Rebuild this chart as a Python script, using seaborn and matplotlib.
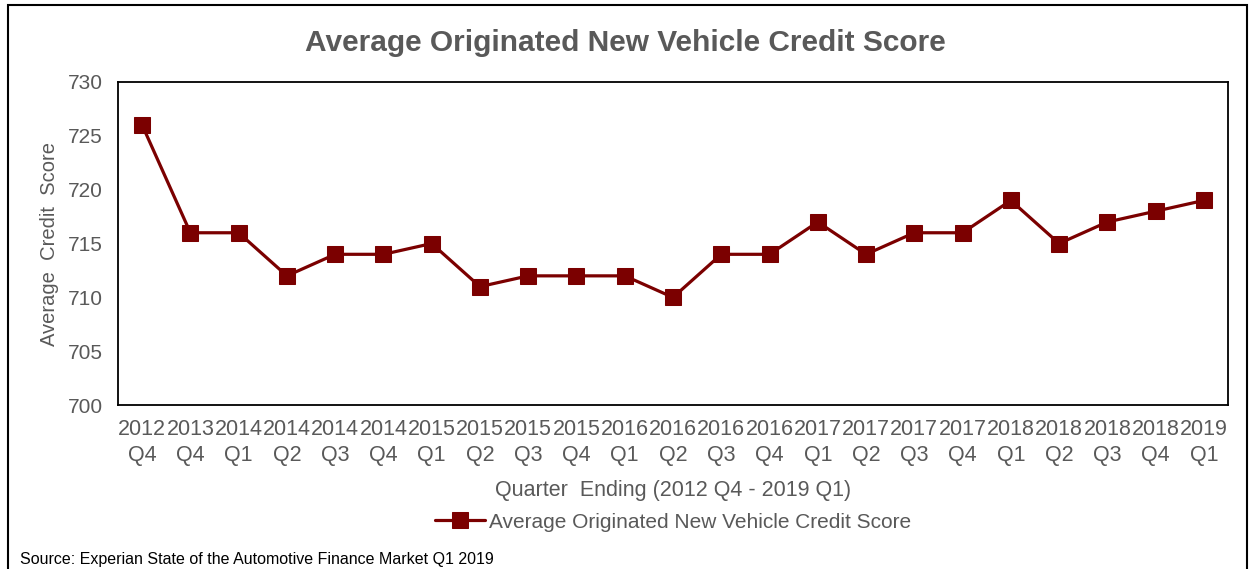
import matplotlib
matplotlib.use("Agg")
import matplotlib.pyplot as plt
import seaborn as sns
import pandas as pd
from matplotlib.patches import Rectangle

quarters = ["2012\nQ4", "2013\nQ4", "2014\nQ1", "2014\nQ2", "2014\nQ3", "2014\nQ4",
            "2015\nQ1", "2015\nQ2", "2015\nQ3", "2015\nQ4", "2016\nQ1", "2016\nQ2",
            "2016\nQ3", "2016\nQ4", "2017\nQ1", "2017\nQ2", "2017\nQ3", "2017\nQ4",
            "2018\nQ1", "2018\nQ2", "2018\nQ3", "2018\nQ4", "2019\nQ1"]
scores = [726, 716, 716, 712, 714, 714, 715, 711, 712, 712, 712, 710,
          714, 714, 717, 714, 716, 716, 719, 715, 717, 718, 719]
yticks = [700, 705, 710, 715, 720, 725, 730]
series_name = "Average Originated New Vehicle Credit Score"

sns.set_theme(style="white")
plt.rcParams['font.family'] = ['Liberation Sans', 'DejaVu Sans']

grey = "#595959"
red = "#7B0000"

df = pd.DataFrame({"x": range(len(quarters)), "score": scores, "s": series_name})

fig = plt.figure(figsize=(12.5, 5.69), dpi=100)
ax = fig.add_axes([0.0944, 0.288, 0.8880, 0.568])

sns.lineplot(data=df, x="x", y="score", hue="s", palette=[red], marker="s",
             markersize=11, linewidth=2.3, markeredgecolor=red, ax=ax)

ax.set_xlim(-0.5, len(quarters) - 0.5)
ax.set_ylim(700, 730)
ax.set_yticks(yticks)
ax.set_yticklabels([str(v) for v in yticks], fontsize=15, color=grey)
ax.set_xticks(range(len(quarters)))
ax.set_xticklabels(quarters, fontsize=15.5, color=grey, linespacing=1.3)
ax.tick_params(axis="y", length=0, pad=11)
ax.tick_params(axis="x", length=0, pad=10)
for sp in ax.spines.values():
    sp.set_color("black")
    sp.set_linewidth(1.3)

ax.set_xlabel("Quarter  Ending (2012 Q4 - 2019 Q1)", fontsize=15.5, color=grey, labelpad=10)
ax.set_ylabel("Average  Credit  Score", fontsize=14.5, color=grey, labelpad=6)

leg = ax.legend(loc="upper center", bbox_to_anchor=(0.5, -0.275), frameon=False,
                fontsize=15, handlelength=2.4, handletextpad=0.15, markerscale=1.0)
for t in leg.get_texts():
    t.set_color(grey)

fig.text(0.5, 0.925, "Average Originated New Vehicle Credit Score", ha="center", va="center",
         fontsize=21.5, fontweight="bold", color=grey)
fig.text(0.016, 0.016, "Source: Experian State of the Automotive Finance Market Q1 2019",
         ha="left", va="center", fontsize=11.5, color="black")

fig.patches.append(Rectangle((0.0064, -0.05), 0.991, 1.041, transform=fig.transFigure,
                             fill=False, edgecolor="black", linewidth=1.5))

fig.savefig("out.png", dpi=100)
